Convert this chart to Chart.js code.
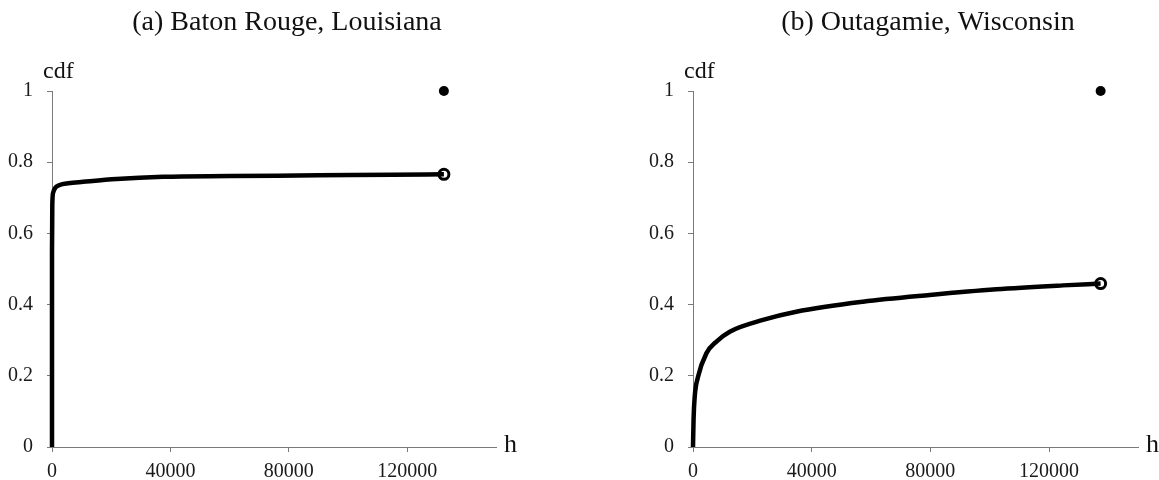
<!DOCTYPE html>
<html>
<head>
<meta charset="utf-8">
<script src="https://cdn.jsdelivr.net/npm/chart.js@4/dist/chart.umd.min.js"></script>
<style>
  body { margin: 0; background: #fff; }
  #wrap { position: relative; width: 1159px; height: 480px; overflow: hidden; }
  canvas { position: absolute; top: 0; }
</style>
</head>
<body>
<div id="wrap">
  <canvas id="cdfBaton" width="560" height="480" style="left:0"></canvas>
  <canvas id="cdfOutagamie" width="518" height="480" style="left:641px"></canvas>
</div>
<script>
// Baton Rouge: empirical cdf of h
const batonH   = [0, 0, 100, 400, 1000, 2600, 5500, 10500, 21800, 37600, 60000, 90000, 115000, 132400];
const batonCdf = [0, 0.55, 0.68, 0.715, 0.727, 0.736, 0.741, 0.745, 0.753, 0.759, 0.761, 0.763, 0.765, 0.766];
const batonEnd = 132400;

// Outagamie: empirical cdf of h
const outaH   = [0, 200, 570, 1700, 4500, 8000, 12400, 23600, 34800, 57300, 79800, 102200, 124700, 137400];
const outaCdf = [0, 0.08, 0.141, 0.197, 0.263, 0.297, 0.324, 0.357, 0.380, 0.408, 0.427, 0.443, 0.454, 0.459];
const outaEnd = 137400;

const xTicks = [0, 40000, 80000, 120000];
const yTicks = [0, 0.2, 0.4, 0.6, 0.8, 1];

const serif = "'Liberation Serif', 'Times New Roman', serif";
const axisGrey = '#7a7a7a';

// title, "cdf" and "h" labels
const axisText = {
    id: 'axisText',
    afterDraw(chart, args, opts) {
        const ctx = chart.ctx;
        const area = chart.chartArea;
        ctx.save();
        ctx.fillStyle = '#111';
        ctx.textAlign = 'center';
        ctx.textBaseline = 'middle';
        ctx.font = '28px ' + serif;
        ctx.fillText(opts.title, opts.titleX, 23);

        ctx.textAlign = 'left';
        ctx.textBaseline = 'alphabetic';
        ctx.font = '24px ' + serif;
        ctx.fillText('cdf', 43, 78);

        ctx.textBaseline = 'middle';
        ctx.font = '26px ' + serif;
        ctx.fillText('h', area.right + 8, area.bottom - 2);
        ctx.restore();
    }
};

function makeCdfChart(canvasId, hs, cdf, hEnd, title, padRight) {
    const points = hs.map((h, i) => ({ x: h, y: cdf[i] }));
    const last = cdf[cdf.length - 1];

    return new Chart(document.getElementById(canvasId), {
        type: 'scatter',
        data: {
            datasets: [
                {
                    data: points,
                    showLine: true,
                    borderColor: '#000',
                    borderWidth: 4.5,
                    pointRadius: 0,
                    cubicInterpolationMode: 'monotone',
                    clip: false
                },
                {
                    // open end of the curve
                    data: [{ x: hEnd, y: last }],
                    pointRadius: 5,
                    pointBorderWidth: 3,
                    pointBorderColor: '#000',
                    pointBackgroundColor: '#fff',
                    clip: false
                },
                {
                    // jump to 1 at the last point
                    data: [{ x: hEnd, y: 1 }],
                    pointRadius: 5,
                    pointBorderWidth: 0,
                    pointBackgroundColor: '#000',
                    clip: false
                }
            ]
        },
        options: {
            responsive: false,
            animation: false,
            layout: {
                padding: { top: 91, right: padRight, left: 0, bottom: 0 }
            },
            plugins: {
                legend: { display: false },
                tooltip: { enabled: false },
                axisText: { title: title, titleX: 287 }
            },
            scales: {
                x: {
                    type: 'linear',
                    min: 0,
                    max: 150000,
                    afterBuildTicks: scale => {
                        scale.ticks = xTicks.map(v => ({ value: v }));
                    },
                    afterFit: scale => { scale.height = 33; },
                    grid: { drawOnChartArea: false, drawTicks: true, tickLength: 5, color: axisGrey },
                    border: { display: true, color: axisGrey, width: 1 },
                    ticks: {
                        padding: 8,
                        color: '#1a1a1a',
                        maxRotation: 0,
                        font: { family: serif, size: 20 },
                        callback: v => String(v)
                    }
                },
                y: {
                    min: 0,
                    max: 1,
                    afterBuildTicks: scale => {
                        scale.ticks = yTicks.map(v => ({ value: v }));
                    },
                    afterFit: scale => { scale.width = 52; },
                    grid: { drawOnChartArea: false, drawTicks: true, tickLength: 5, color: axisGrey },
                    border: { display: true, color: axisGrey, width: 1 },
                    ticks: {
                        padding: 14,
                        color: '#1a1a1a',
                        font: { family: serif, size: 20 },
                        callback: v => String(v)
                    }
                }
            }
        },
        plugins: [axisText]
    });
}

makeCdfChart('cdfBaton', batonH, batonCdf, batonEnd, '(a) Baton Rouge, Louisiana', 64);
makeCdfChart('cdfOutagamie', outaH, outaCdf, outaEnd, '(b) Outagamie, Wisconsin', 21);
</script>
</body>
</html>
